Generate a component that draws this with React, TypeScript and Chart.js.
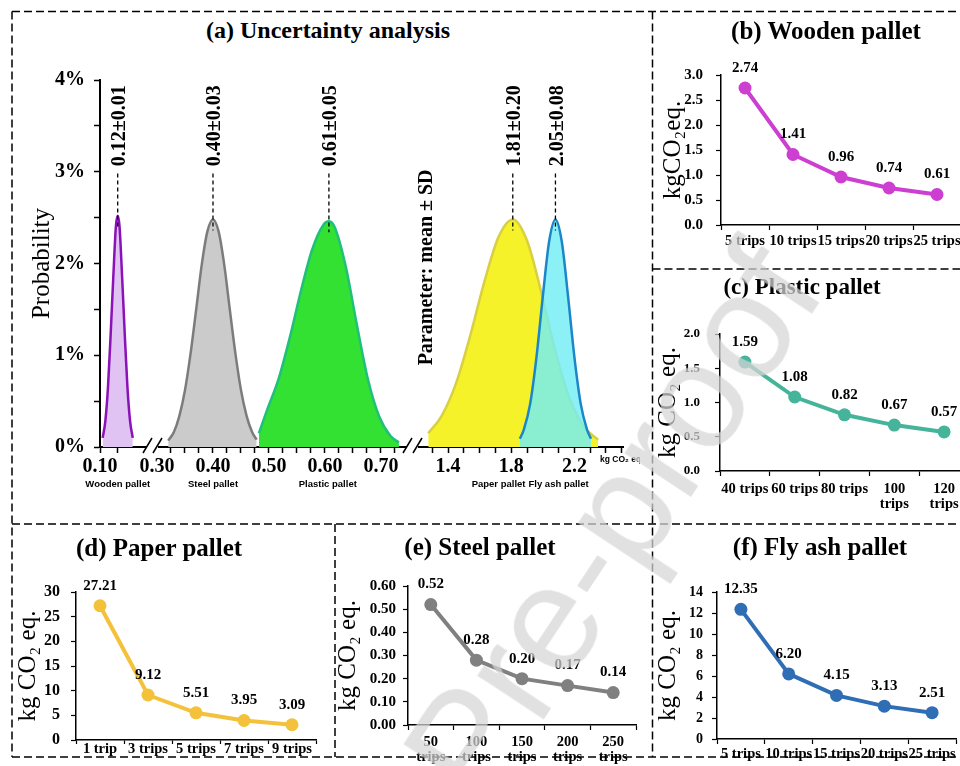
import React, { useEffect, useRef } from 'react';
import { Chart, registerables, LinearScale } from 'chart.js';

Chart.register(...registerables);

const SERIF = '"Liberation Serif", "Times New Roman", Times, serif';
const SANS = '"Liberation Sans", Arial, Helvetica, sans-serif';

// ================= (a) Uncertainty analysis =================
const probabilityTicks = [0, 0.5, 1, 1.5, 2, 2.5, 3, 3.5, 4];
const emissionTicks = [0.1, 0.12, 0.3, 0.325, 0.35, 0.375, 0.4, 0.425, 0.45, 0.475, 0.5, 0.525, 0.55, 0.575, 0.6, 0.625, 0.65, 0.675, 0.7, 0.725, 1.3, 1.4, 1.5, 1.6, 1.7, 1.8, 1.9, 2.0, 2.1, 2.2, 2.3, 2.4, 2.5];
const emissionTickLabelValues = [0.1, 0.3, 0.4, 0.5, 0.6, 0.7, 1.4, 1.8, 2.2];
const emissionTickLabels = ['0.10', '0.30', '0.40', '0.50', '0.60', '0.70', '1.4', '1.8', '2.2'];
const hiddenTickValues = [0.3];

const woodenDistX = [0.103, 0.106, 0.109, 0.112, 0.115, 0.118, 0.12, 0.122, 0.125, 0.128, 0.131, 0.134, 0.137];
const woodenDistP = [0.1, 0.28, 0.65, 1.22, 1.85, 2.41, 2.52, 2.41, 1.85, 1.22, 0.65, 0.28, 0.1];

const steelDistX = [0.32, 0.33, 0.34, 0.35, 0.36, 0.37, 0.38, 0.39, 0.4, 0.41, 0.42, 0.43, 0.44, 0.45, 0.46, 0.47, 0.478];
const steelDistP = [0.07, 0.16, 0.34, 0.62, 1.02, 1.5, 1.99, 2.35, 2.48, 2.35, 1.99, 1.5, 1.02, 0.62, 0.34, 0.16, 0.08];

const plasticDistX = [0.482, 0.497, 0.517, 0.537, 0.557, 0.577, 0.597, 0.607, 0.617, 0.637, 0.657, 0.677, 0.697, 0.717, 0.732];
const plasticDistP = [0.15, 0.41, 0.74, 1.19, 1.7, 2.15, 2.42, 2.46, 2.4, 1.97, 1.33, 0.73, 0.33, 0.12, 0.05];

const paperDistX = [1.275, 1.36, 1.45, 1.54, 1.63, 1.72, 1.81, 1.9, 1.99, 2.08, 2.17, 2.26, 2.35];
const paperDistP = [0.15, 0.34, 0.69, 1.21, 1.8, 2.29, 2.48, 2.25, 1.69, 1.04, 0.53, 0.22, 0.08];

const flyAshDistX = [1.855, 1.88, 1.92, 1.96, 2.0, 2.04, 2.08, 2.12, 2.16, 2.2, 2.24, 2.28, 2.305];
const flyAshDistP = [0.09, 0.19, 0.47, 0.98, 1.64, 2.24, 2.48, 2.24, 1.64, 0.98, 0.47, 0.19, 0.09];

const distributionNames = ['Wooden pallet', 'Steel pallet', 'Plastic pallet', 'Paper pallet', 'Fly ash pallet'];
const distributionNameAt = [0.12, 0.4, 0.605, 1.72, 2.1];
const distributionMeanAt = [0.12, 0.4, 0.607, 1.81, 2.08];
const distributionPeak = [2.52, 2.48, 2.46, 2.48, 2.48];
const distributionStats = ['0.12±0.01', '0.40±0.03', '0.61±0.05', '1.81±0.20', '2.05±0.08'];

// ================= (b)-(f) trips =================
const woodenTrips = ['5 trips', '10 trips', '15 trips', '20 trips', '25 trips'];
const woodenEmission = [2.74, 1.41, 0.96, 0.74, 0.61];

const plasticTrips: (string | string[])[] = ['40 trips', '60 trips', '80 trips', ['100', 'trips'], ['120', 'trips']];
const plasticEmission = [1.59, 1.08, 0.82, 0.67, 0.57];

const paperTrips = ['1 trip', '3 trips', '5 trips', '7 trips', '9 trips'];
const paperEmission = [27.21, 9.12, 5.51, 3.95, 3.09];

const steelTrips: (string | string[])[] = [['50', 'trips'], ['100', 'trips'], ['150', 'trips'], ['200', 'trips'], ['250', 'trips']];
const steelEmission = [0.52, 0.28, 0.2, 0.17, 0.14];

const flyAshTrips = ['5 trips', '10 trips', '15 trips', '20 trips', '25 trips'];
const flyAshEmission = [12.35, 6.2, 4.15, 3.13, 2.51];

// ================= broken x axis for (a) =================
const brokenSegments = [
  { v0: 0.1, v1: 0.1576, p0: 0, p1: 51 },
  { v0: 0.2893, v1: 0.7536, p0: 51, p1: 311 },
  { v0: 1.1658, v1: 2.5076, p0: 311, p1: 523 },
];
const BROKEN_LEN = 523;

function brokenPos(v: number): number {
  for (let i = 0; i < brokenSegments.length; i++) {
    const s = brokenSegments[i];
    if (v <= s.v1 || i === brokenSegments.length - 1) {
      const vv = Math.max(v, s.v0);
      return s.p0 + ((vv - s.v0) / (s.v1 - s.v0)) * (s.p1 - s.p0);
    }
  }
  return 0;
}

class BrokenAxis extends LinearScale {
  static id = 'brokenAxis';
  static defaults = LinearScale.defaults;
  getPixelForValue(value: number) {
    return this.getPixelForDecimal(brokenPos(value) / BROKEN_LEN);
  }
  getValueForPixel(pixel: number) {
    const p = this.getDecimalForPixel(pixel) * BROKEN_LEN;
    for (const s of brokenSegments) {
      if (p <= s.p1) return s.v0 + ((p - s.p0) / (s.p1 - s.p0)) * (s.v1 - s.v0);
    }
    return brokenSegments[brokenSegments.length - 1].v1;
  }
}
Chart.register(BrokenAxis as any);

const uncertaintyPlugin = {
  id: 'uncertaintyNotes',
  afterDraw(chart: any) {
    const { ctx, chartArea } = chart;
    const x = chart.scales.x;
    const y = chart.scales.y;
    ctx.save();
    // dashed mean lines
    ctx.strokeStyle = '#000';
    ctx.lineWidth = 1.3;
    ctx.setLineDash([4, 3]);
    distributionMeanAt.forEach((m, i) => {
      const px = x.getPixelForValue(m);
      ctx.beginPath();
      ctx.moveTo(px, y.getPixelForValue(2.98));
      ctx.lineTo(px, y.getPixelForValue(distributionPeak[i] - 0.12));
      ctx.stroke();
    });
    ctx.setLineDash([]);
    // rotated mean ± SD labels
    ctx.fillStyle = '#000';
    ctx.font = `bold 20px ${SERIF}`;
    ctx.textAlign = 'left';
    ctx.textBaseline = 'middle';
    distributionMeanAt.forEach((m, i) => {
      ctx.save();
      ctx.translate(x.getPixelForValue(m) + 2, y.getPixelForValue(3.06));
      ctx.rotate(-Math.PI / 2);
      ctx.fillText(distributionStats[i], 0, 0);
      ctx.restore();
    });
    // parameter note
    ctx.save();
    ctx.translate(x.getPixelForValue(1.267), y.getPixelForValue(0.89));
    ctx.rotate(-Math.PI / 2);
    ctx.fillText('Parameter: mean ± SD', 0, 0);
    ctx.restore();
    // category names
    ctx.font = `bold 9.5px ${SANS}`;
    ctx.textAlign = 'center';
    distributionNames.forEach((n, i) => {
      ctx.fillText(n, x.getPixelForValue(distributionNameAt[i]), chartArea.bottom + 37);
    });
    // unit
    ctx.font = `bold 8.5px ${SANS}`;
    ctx.textAlign = 'left';
    ctx.fillText('kg CO₂ eq.', chartArea.right - 23, chartArea.bottom + 13);
    // axis breaks
    const ay = chartArea.bottom;
    [51, 311].forEach((p) => {
      const bx = x.getPixelForDecimal(p / BROKEN_LEN);
      ctx.fillStyle = '#fff';
      ctx.fillRect(bx - 4, ay - 2, 11, 4);
      ctx.strokeStyle = '#000';
      ctx.lineWidth = 1.5;
      ctx.beginPath();
      ctx.moveTo(bx - 8, ay + 6);
      ctx.lineTo(bx + 1, ay - 9);
      ctx.moveTo(bx + 2, ay + 6);
      ctx.lineTo(bx + 11, ay - 9);
      ctx.stroke();
    });
    ctx.restore();
  },
};

function toPoints(xs: number[], ps: number[]) {
  return xs.map((v, i) => ({ x: v, y: ps[i] }));
}

function UncertaintyChart() {
  const ref = useRef<HTMLCanvasElement | null>(null);
  const left = 30, top = 50, width = 610, height = 445;
  useEffect(() => {
    const canvas = ref.current;
    if (!canvas) return;
    const mk = (xs: number[], ps: number[], line: string, fill: string) => ({
      data: toPoints(xs, ps),
      borderColor: line,
      backgroundColor: fill,
      borderWidth: 2.5,
      pointRadius: 0,
      fill: 'origin',
      cubicInterpolationMode: 'monotone' as const,
    });
    const chart = new Chart(canvas, {
      type: 'line',
      data: {
        datasets: [
          mk(flyAshDistX, flyAshDistP, '#1C86C9', 'rgba(115,238,245,0.82)'),
          mk(paperDistX, paperDistP, '#D8CF42', '#F5F22A'),
          mk(plasticDistX, plasticDistP, '#20C07C', '#33E133'),
          mk(steelDistX, steelDistP, '#7C7C7C', '#CBCBCB'),
          mk(woodenDistX, woodenDistP, '#8A12B6', '#E0C2F3'),
        ] as any,
      },
      options: {
        animation: false,
        responsive: false,
        devicePixelRatio: 1,
        events: [],
        layout: { padding: { left: 0, top: 30, right: 17, bottom: 0 } },
        plugins: { legend: { display: false }, tooltip: { enabled: false } },
        scales: {
          x: {
            type: 'brokenAxis' as any,
            min: 0.1,
            max: 2.5076,
            afterBuildTicks: (s: any) => {
              s.ticks = emissionTicks.map((v) => ({ value: v }));
            },
            ticks: {
              autoSkip: false,
              maxRotation: 0,
              minRotation: 0,
              color: '#000',
              padding: 2,
              font: { family: SERIF, size: 20, weight: 'bold', lineHeight: 1.2 },
              callback: (value: any) => {
                const i = emissionTickLabelValues.findIndex((v) => Math.abs(v - Number(value)) < 1e-6);
                return i >= 0 ? emissionTickLabels[i] : '';
              },
            },
            grid: {
              drawOnChartArea: false,
              tickLength: 6,
              tickWidth: 1.5,
              tickColor: (c: any) =>
                c.tick && hiddenTickValues.some((h) => Math.abs(h - c.tick.value) < 1e-6) ? 'rgba(0,0,0,0)' : '#000',
            },
            border: { display: true, color: '#000', width: 2 },
            afterFit: (s: any) => {
              s.height = 48;
            },
          } as any,
          y: {
            min: 0,
            max: 4,
            afterBuildTicks: (s: any) => {
              s.ticks = probabilityTicks.map((v) => ({ value: v }));
            },
            ticks: {
              color: '#000',
              padding: 9,
              font: { family: SERIF, size: 20, weight: 'bold' },
              callback: (v: any) => (Number.isInteger(Number(v)) ? `${v}%` : ''),
            },
            grid: { drawOnChartArea: false, tickLength: 6, tickWidth: 1.5, tickColor: '#000' },
            border: { display: true, color: '#000', width: 2 },
            title: {
              display: true,
              text: 'Probability',
              color: '#000',
              padding: 0,
              font: { family: SERIF, size: 25, lineHeight: 1 },
            },
            afterFit: (s: any) => {
              s.width = 70;
            },
          } as any,
        },
      },
      plugins: [uncertaintyPlugin],
    });
    return () => chart.destroy();
  }, []);
  return <canvas ref={ref} width={width} height={height} style={{ position: 'absolute', left, top, width, height }} />;
}

// ================= line panels =================
type PanelSpec = {
  labels: (string | string[])[];
  values: number[];
  color: string;
  yMin: number;
  yMax: number;
  yStep: number;
  yDecimals: number;
  area: { left: number; top: number; right: number; bottom: number };
  titleX: number;
  yTitle: string;
  yTickSize: number;
  yTickGap: number;
  xTickGap: number;
  xTickLen: number;
};

const Y_TITLE_SIZE = 25;
const PAD_TOP = 40;
const PAD_RIGHT = 10;
const X_HEIGHT = 40;
const X_TICK_FONT = 14.5;
const X_TICK_LH = 1.05;

const pointLabelPlugin = {
  id: 'pointLabels',
  afterDatasetsDraw(chart: any) {
    const { ctx } = chart;
    const meta = chart.getDatasetMeta(0);
    const values = chart.data.datasets[0].data as number[];
    ctx.save();
    ctx.font = `bold 15px ${SERIF}`;
    ctx.fillStyle = '#000';
    ctx.textAlign = 'center';
    ctx.textBaseline = 'middle';
    meta.data.forEach((pt: any, i: number) => {
      ctx.fillText(Number(values[i]).toFixed(2), pt.x, pt.y - 20);
    });
    ctx.restore();
  },
};

function LinePanel({ spec }: { spec: PanelSpec }) {
  const ref = useRef<HTMLCanvasElement | null>(null);
  const left = Math.round(spec.titleX - Y_TITLE_SIZE / 2);
  const top = spec.area.top - PAD_TOP;
  const width = Math.round(spec.area.right + PAD_RIGHT - left);
  const height = Math.round(spec.area.bottom + X_HEIGHT - top);
  useEffect(() => {
    const canvas = ref.current;
    if (!canvas) return;
    const yWidth = spec.area.left - left;
    const chart = new Chart(canvas, {
      type: 'line',
      data: {
        labels: spec.labels as any,
        datasets: [
          {
            data: spec.values,
            borderColor: spec.color,
            backgroundColor: spec.color,
            borderWidth: 4,
            pointRadius: 6.5,
            pointHoverRadius: 6.5,
            pointBackgroundColor: spec.color,
            pointBorderWidth: 0,
            tension: 0,
            fill: false,
            clip: false as any,
          },
        ],
      },
      options: {
        animation: false,
        responsive: false,
        devicePixelRatio: 1,
        events: [],
        layout: { padding: { left: 0, top: PAD_TOP, right: PAD_RIGHT, bottom: 0 } },
        plugins: { legend: { display: false }, tooltip: { enabled: false } },
        scales: {
          x: {
            type: 'category',
            offset: true,
            grid: { offset: true, drawOnChartArea: false, tickLength: spec.xTickLen, tickWidth: 1.2, tickColor: '#000' },
            border: { display: true, color: '#000', width: 1.5 },
            ticks: {
              autoSkip: false,
              maxRotation: 0,
              minRotation: 0,
              color: '#000',
              padding: spec.xTickGap - spec.xTickLen - (X_TICK_FONT * X_TICK_LH) / 2,
              font: { family: SERIF, size: X_TICK_FONT, weight: 'bold', lineHeight: X_TICK_LH },
            },
            afterFit: (s: any) => {
              s.height = X_HEIGHT;
            },
          } as any,
          y: {
            min: spec.yMin,
            max: spec.yMax,
            ticks: {
              stepSize: spec.yStep,
              color: '#000',
              padding: spec.yTickGap - 5,
              font: { family: SERIF, size: spec.yTickSize, weight: 'bold' },
              callback: (v: any) => Number(v).toFixed(spec.yDecimals),
            },
            grid: { drawOnChartArea: false, tickLength: 5, tickWidth: 1.2, tickColor: '#000' },
            border: { display: true, color: '#000', width: 1.5 },
            title: {
              display: true,
              text: spec.yTitle,
              color: '#000',
              padding: 0,
              font: { family: SERIF, size: Y_TITLE_SIZE, lineHeight: 1 },
            },
            afterFit: (s: any) => {
              s.width = yWidth;
            },
          } as any,
        },
      },
      plugins: [pointLabelPlugin],
    });
    return () => chart.destroy();
  }, []);
  return <canvas ref={ref} width={width} height={height} style={{ position: 'absolute', left, top, width, height }} />;
}

const panelB: PanelSpec = {
  labels: woodenTrips, values: woodenEmission, color: '#CC3FD1',
  yMin: 0, yMax: 3, yStep: 0.5, yDecimals: 1,
  area: { left: 721, top: 74.5, right: 961, bottom: 224.5 },
  titleX: 673, yTitle: 'kgCO₂eq.', yTickSize: 15, yTickGap: 18, xTickGap: 16.5, xTickLen: 5,
};
const panelC: PanelSpec = {
  labels: plasticTrips, values: plasticEmission, color: '#46B49A',
  yMin: 0, yMax: 2, yStep: 0.5, yDecimals: 1,
  area: { left: 720, top: 334, right: 969, bottom: 471 },
  titleX: 668, yTitle: 'kg CO₂ eq.', yTickSize: 13, yTickGap: 20, xTickGap: 18, xTickLen: 5,
};
const panelD: PanelSpec = {
  labels: paperTrips, values: paperEmission, color: '#F3C13A',
  yMin: 0, yMax: 30, yStep: 5, yDecimals: 0,
  area: { left: 76, top: 592, right: 316, bottom: 740 },
  titleX: 28, yTitle: 'kg CO₂ eq.', yTickSize: 16, yTickGap: 16, xTickGap: 9.5, xTickLen: 4,
};
const panelE: PanelSpec = {
  labels: steelTrips, values: steelEmission, color: '#808080',
  yMin: 0, yMax: 0.6, yStep: 0.1, yDecimals: 2,
  area: { left: 408, top: 586, right: 636, bottom: 725 },
  titleX: 348, yTitle: 'kg CO₂ eq.', yTickSize: 15, yTickGap: 12, xTickGap: 17, xTickLen: 5,
};
const panelF: PanelSpec = {
  labels: flyAshTrips, values: flyAshEmission, color: '#2F6DB5',
  yMin: 0, yMax: 14, yStep: 2, yDecimals: 0,
  area: { left: 717, top: 592, right: 956, bottom: 739 },
  titleX: 668, yTitle: 'kg CO₂ eq.', yTickSize: 14, yTickGap: 14, xTickGap: 15, xTickLen: 5,
};

const panelTitles = [
  { text: '(a) Uncertainty analysis', cx: 328, cy: 31, size: 24 },
  { text: '(b) Wooden pallet', cx: 826, cy: 32, size: 25 },
  { text: '(c) Plastic pallet', cx: 802, cy: 288, size: 23 },
  { text: '(d) Paper pallet', cx: 159, cy: 549, size: 25 },
  { text: '(e) Steel pallet', cx: 480, cy: 548, size: 25 },
  { text: '(f) Fly ash pallet', cx: 820, cy: 548, size: 25 },
];

export default function App() {
  return (
    <div
      style={{
        position: 'fixed',
        left: 0,
        top: 0,
        width: 960,
        height: 766,
        overflow: 'hidden',
        background: '#fff',
      }}
    >
      <svg width={960} height={766} style={{ position: 'absolute', left: 0, top: 0 }}>
        <g stroke="#000" strokeWidth={1.5} strokeDasharray="8 4" fill="none">
          <line x1={12} y1={11.5} x2={960} y2={11.5} />
          <line x1={12} y1={11.5} x2={12} y2={757} />
          <line x1={652.5} y1={11.5} x2={652.5} y2={757} />
          <line x1={652.5} y1={269} x2={960} y2={269} />
          <line x1={12} y1={524} x2={960} y2={524} />
          <line x1={335} y1={524} x2={335} y2={757} />
          <line x1={12} y1={757} x2={960} y2={757} />
        </g>
      </svg>
      <UncertaintyChart />
      <LinePanel spec={panelB} />
      <LinePanel spec={panelC} />
      <LinePanel spec={panelD} />
      <LinePanel spec={panelE} />
      <LinePanel spec={panelF} />
      {panelTitles.map((t) => (
        <div
          key={t.text}
          style={{
            position: 'absolute',
            left: t.cx,
            top: t.cy - t.size * 0.56,
            transform: 'translateX(-50%)',
            font: `bold ${t.size}px ${SERIF}`,
            lineHeight: 1,
            whiteSpace: 'nowrap',
            color: '#000',
          }}
        >
          {t.text}
        </div>
      ))}
      <div
        style={{
          position: 'absolute',
          left: 612,
          top: 522,
          transform: 'translate(-50%, -50%) rotate(-56.5deg)',
          font: `150px ${SANS}`,
          lineHeight: 1,
          color: 'rgba(214,214,214,0.72)',
          whiteSpace: 'nowrap',
          pointerEvents: 'none',
        }}
      >
        Pre-proof
      </div>
    </div>
  );
}
